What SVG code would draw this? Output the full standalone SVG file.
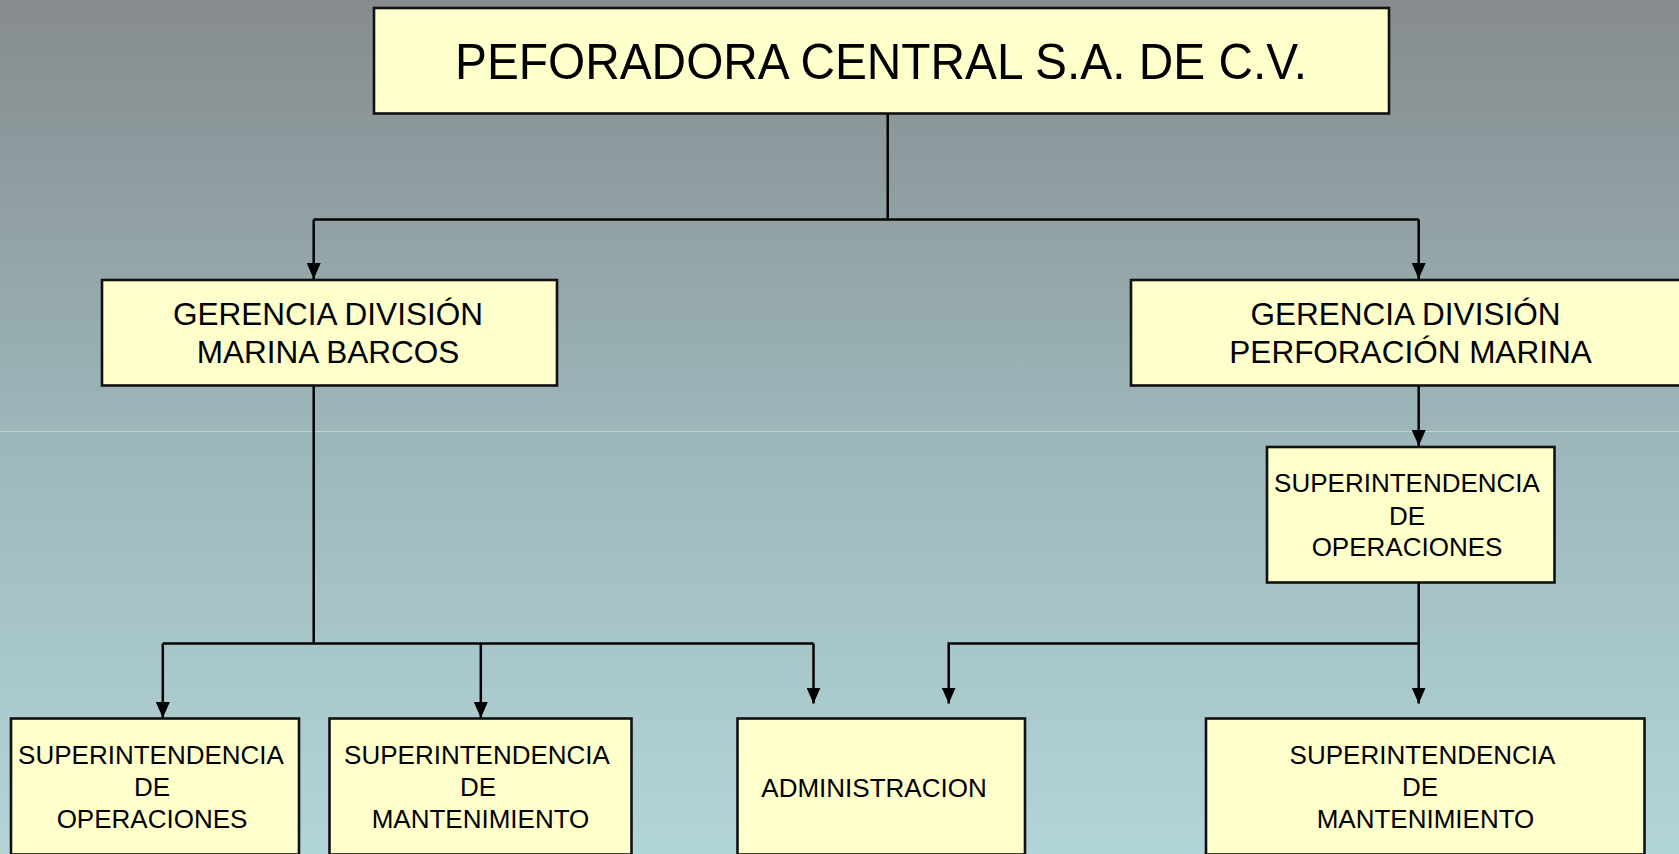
<svg xmlns="http://www.w3.org/2000/svg" width="1679" height="854" viewBox="0 0 1679 854">
<defs>
<linearGradient id="bg" x1="0" y1="0" x2="0" y2="1">
<stop offset="0" stop-color="#868b8e"/>
<stop offset="0.5" stop-color="#9cb6ba"/>
<stop offset="1" stop-color="#b2d5d9"/>
</linearGradient>
<marker id="arr" markerUnits="userSpaceOnUse" markerWidth="16" markerHeight="14" refX="16" refY="7" orient="auto">
<path d="M0,0 L16,7 L0,14 z" fill="#000"/>
</marker>
<style>
.box{fill:#ffffcc;stroke:#111;stroke-width:2.6}
.t{font-family:"Liberation Sans",Arial,sans-serif;fill:#000;text-anchor:middle}
.c{fill:none;stroke:#000;stroke-width:2.5}
</style>
</defs>
<rect x="0" y="0" width="1679" height="854" fill="url(#bg)"/>
<line x1="0" y1="431.5" x2="1679" y2="431.5" stroke="#c4dcdd" stroke-width="1" opacity="0.8"/>

<g id="connectors">
<path class="c" d="M887.7,113.5 V219.5"/>
<path class="c" d="M313.7,219.5 H1418.7"/>
<path class="c" d="M313.7,219.5 V279" marker-end="url(#arr)"/>
<path class="c" d="M1418.7,219.5 V279" marker-end="url(#arr)"/>
<path class="c" d="M1418.7,385.5 V446" marker-end="url(#arr)"/>
<path class="c" d="M1418.7,582.5 V703.5" marker-end="url(#arr)"/>
<path class="c" d="M1418.7,643.5 H948.7 V703.5" marker-end="url(#arr)"/>
<path class="c" d="M313.7,385.5 V643.5"/>
<path class="c" d="M162.8,643.5 H813.5"/>
<path class="c" d="M162.8,643.5 V718" marker-end="url(#arr)"/>
<path class="c" d="M480.8,643.5 V718" marker-end="url(#arr)"/>
<path class="c" d="M813.5,643.5 V703.5" marker-end="url(#arr)"/>
</g>

<g id="n-top">
<rect class="box" x="374" y="8" width="1015" height="105.5"/>
<text class="t" x="881" y="79" font-size="50" textLength="852" lengthAdjust="spacingAndGlyphs">PEFORADORA CENTRAL S.A. DE C.V.</text>
</g>

<g id="n-gdmb">
<rect class="box" x="102" y="280" width="455" height="105.5"/>
<text class="t" x="328" y="325" font-size="31.5">GERENCIA DIVISIÓN</text>
<text class="t" x="328" y="363" font-size="31.5">MARINA BARCOS</text>
</g>

<g id="n-gdpm">
<rect class="box" x="1131" y="280" width="555" height="105.5"/>
<text class="t" x="1405.5" y="325" font-size="31.5">GERENCIA DIVISIÓN</text>
<text class="t" x="1410.5" y="363" font-size="31.5">PERFORACIÓN MARINA</text>
</g>

<g id="n-so-right">
<rect class="box" x="1267" y="447" width="287.5" height="135.5"/>
<text class="t" x="1407" y="491.5" font-size="26">SUPERINTENDENCIA</text>
<text class="t" x="1407" y="525" font-size="26">DE</text>
<text class="t" x="1407" y="556" font-size="26">OPERACIONES</text>
</g>

<g id="n-so-left">
<rect class="box" x="11" y="718.5" width="288" height="136"/>
<text class="t" x="151" y="764" font-size="26">SUPERINTENDENCIA</text>
<text class="t" x="152" y="796" font-size="26">DE</text>
<text class="t" x="152" y="827.5" font-size="26">OPERACIONES</text>
</g>

<g id="n-sm-left">
<rect class="box" x="329.5" y="718.5" width="302" height="136"/>
<text class="t" x="477" y="764" font-size="26">SUPERINTENDENCIA</text>
<text class="t" x="478" y="796" font-size="26">DE</text>
<text class="t" x="480.5" y="827.5" font-size="26">MANTENIMIENTO</text>
</g>

<g id="n-admin">
<rect class="box" x="737.5" y="718.5" width="287.5" height="136"/>
<text class="t" x="874" y="796.5" font-size="26">ADMINISTRACION</text>
</g>

<g id="n-sm-right">
<rect class="box" x="1206" y="718.5" width="438.5" height="136"/>
<text class="t" x="1422.5" y="764" font-size="26">SUPERINTENDENCIA</text>
<text class="t" x="1420" y="796" font-size="26">DE</text>
<text class="t" x="1425.5" y="827.5" font-size="26">MANTENIMIENTO</text>
</g>
</svg>
